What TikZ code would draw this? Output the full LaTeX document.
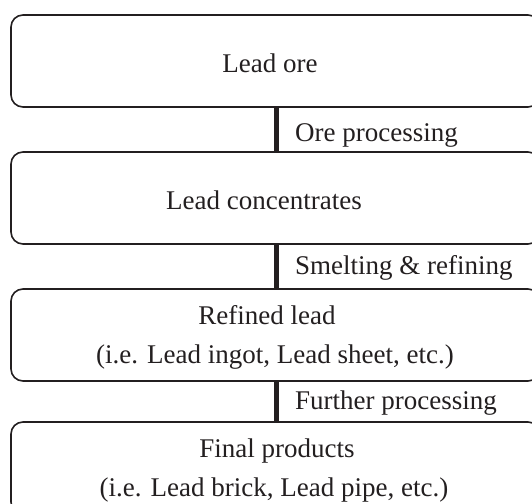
\documentclass[tikz,border=0pt]{standalone}
\usepackage{fontspec}
\setmainfont{Liberation Serif}
\definecolor{ink}{HTML}{231F20}
\begin{document}
\begin{tikzpicture}[x=1pt,y=-1pt,
  box/.style={draw=ink,line width=1.6pt,rounded corners=12pt,minimum width=529pt,minimum height=92pt,inner sep=0pt,outer sep=0pt},
  txt/.style={anchor=base,inner sep=0pt,text=ink,font=\fontsize{27}{39}\selectfont},
  lbl/.style={anchor=base west,inner sep=0pt,text=ink,font=\fontsize{27}{39}\selectfont},
  link/.style={draw=ink,line width=5pt}]
\useasboundingbox (0,0) rectangle (532,503);
\clip (0,0) rectangle (532,503);
\node[box] (b1) at (275.5,61) {};
\node[box] (b2) at (275.5,198) {};
\node[box] (b3) at (275.5,335) {};
\node[box] (b4) at (275.5,468) {};
\node[txt] (t1) at (270,72) {Lead ore};
\node[txt] (t2) at (264,209.5) {Lead concentrates};
\node[txt] (t3a) at (267,324.5) {Refined lead};
\node[txt] (t3b) at (275,363.5) {(i.e. Lead ingot, Lead sheet, etc.)};
\node[txt] (t4a) at (277,457.5) {Final products};
\node[txt] (t4b) at (274,496) {(i.e. Lead brick, Lead pipe, etc.)};
\draw[link] ([xshift=0.5pt]b1.south) -- ([xshift=0.5pt]b2.north);
\draw[link] ([xshift=0.5pt]b2.south) -- ([xshift=0.5pt]b3.north);
\draw[link] ([xshift=0.5pt]b3.south) -- ([xshift=0.5pt]b4.north);
\node[lbl] (l1) at (295,141) {Ore processing};
\node[lbl] (l2) at (295,274) {Smelting \& refining};
\node[lbl] (l3) at (295,409) {Further processing};
\end{tikzpicture}
\end{document}
